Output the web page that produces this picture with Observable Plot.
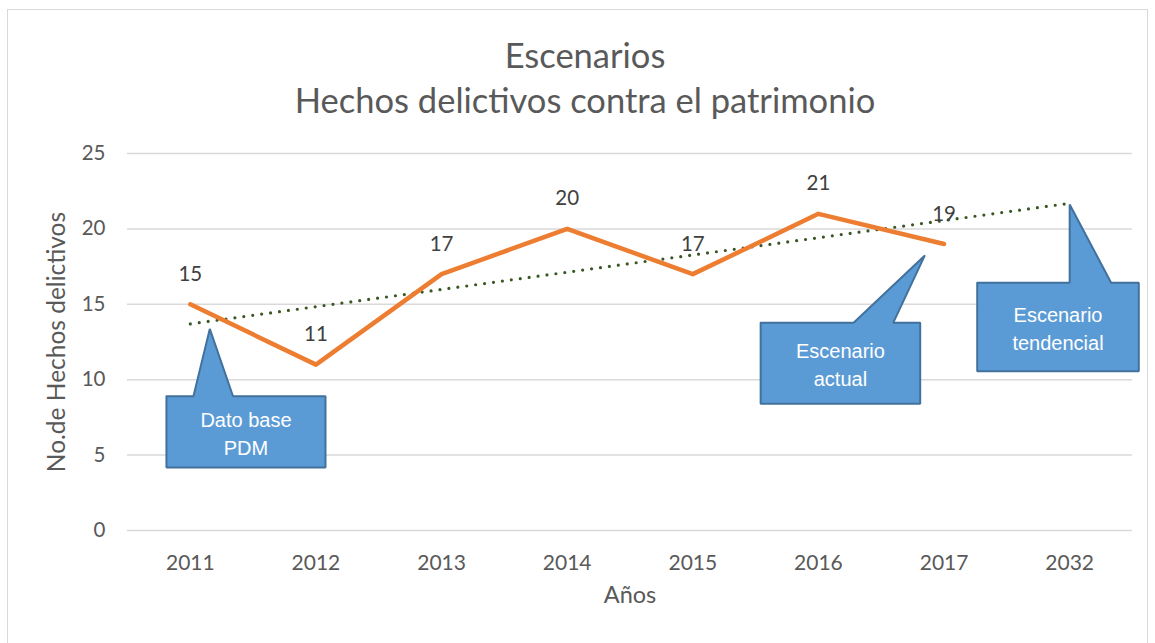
<!DOCTYPE html>
<html><head><meta charset="utf-8">
<script src="https://cdn.jsdelivr.net/npm/d3@7"></script>
<script src="https://cdn.jsdelivr.net/npm/@observablehq/plot@0.6"></script>
<style>
body{margin:0;background:#fff;}
#wrap{position:relative;width:1155px;height:643px;overflow:hidden;font-family:Lato,sans-serif;}
#frame{position:absolute;left:7px;top:9px;width:1141px;height:660px;border:1.5px solid #d9d9d9;box-sizing:border-box;}
#title{position:absolute;left:0;top:32px;width:1170px;text-align:center;color:#595959;font-size:34.5px;line-height:45px;}
#plot{position:absolute;left:0;top:120px;}
</style></head><body>
<div id="wrap"><div id="frame"></div>
<div id="title"><div>Escenarios</div><div>Hechos delictivos contra el patrimonio</div></div>
<div id="plot"></div></div>
<script>
// ---- data ----
const years = ["2011","2012","2013","2014","2015","2016","2017","2032"];
const hechos = [15, 11, 17, 20, 17, 21, 19];          // 2011..2017
const trendYears = ["2011", "2032"];
const trendValues = [13.7, 21.7];                     // dotted trend line ends
const yTicks = [0, 5, 10, 15, 20, 25];
const calloutLabels = ["Dato base\nPDM", "Escenario\nactual", "Escenario\ntendencial"];

// ---- annotation layout (in data units: x = year index, y = value) ----
const calloutShapes = [
  {x1: -0.19, x2: 1.076, top: 8.9,  bottom: 4.18,  b1: 0.025, b2: 0.34,  tipX: 0.155, tipY: 13.37},
  {x1: 4.54,  x2: 5.81,  top: 13.77, bottom: 8.4,  b1: 5.28,  b2: 5.595, tipX: 5.847, tipY: 18.24},
  {x1: 6.264, x2: 7.55,  top: 16.43, bottom: 10.56, b1: 7.0,  b2: 7.33,  tipX: 7.0,   tipY: 21.62}
];

const series = hechos.map((v, i) => ({i, v, year: years[i]}));
const trend = trendYears.map((y, k) => ({i: years.indexOf(y), v: trendValues[k]}));
const calloutPts = calloutShapes.flatMap((c, id) => [
  [c.x1, c.top], [c.b1, c.top], [c.tipX, c.tipY], [c.b2, c.top], [c.x2, c.top],
  [c.x2, c.bottom], [c.x1, c.bottom], [c.x1, c.top]
].map(([x, y]) => ({id, x, y})));
const calloutText = calloutShapes.map((c, k) => ({x: (c.x1 + c.x2) / 2, y: (c.top + c.bottom) / 2, t: calloutLabels[k]}));

const chart = Plot.plot({
  width: 1155, height: 523,
  marginLeft: 127, marginRight: 23, marginTop: 33, marginBottom: 113,
  x: {domain: [-0.5, years.length - 0.5]},
  y: {domain: [0, 25]},
  style: {fontFamily: "Lato, sans-serif", fontSize: "20px", color: "#595959", background: "transparent", overflow: "visible"},
  marks: [
    Plot.gridY(yTicks, {stroke: "#d9d9d9", strokeOpacity: 1, strokeWidth: 1.5}),
    Plot.axisY(yTicks, {tickSize: 0, tickPadding: 22, label: null, fontSize: 20.5}),
    Plot.axisX(d3.range(years.length), {tickSize: 0, tickPadding: 25, tickFormat: i => years[i], label: null, fontSize: 21}),
    Plot.line(trend, {x: "i", y: "v", stroke: "#385723", strokeWidth: 3.2, strokeDasharray: "0 9", strokeLinecap: "round"}),
    Plot.line(series, {x: "i", y: "v", stroke: "#ed7d31", strokeWidth: 4.5, strokeLinejoin: "round", strokeLinecap: "round"}),
    Plot.text(series, {x: "i", y: "v", text: d => String(d.v), dy: -30, fill: "#404040", fontSize: 20.5}),
    Plot.line(calloutPts, {x: "x", y: "y", z: "id", fill: "#5b9bd5", stroke: "#41719c", strokeWidth: 2, strokeLinejoin: "miter"}),
    Plot.text(calloutText, {x: "x", y: "y", text: "t", fill: "white", fontFamily: "Liberation Sans, Arial, sans-serif", fontSize: 20, lineHeight: 1.4}),
    Plot.text(["No.de Hechos delictivos"], {frameAnchor: "left", textAnchor: "middle", dx: -70, rotate: -90, fontSize: 24.5, fill: "#595959"}),
    Plot.text(["Años"], {frameAnchor: "bottom", dy: 72, fontSize: 23.5, fill: "#595959"})
  ]
});
document.getElementById("plot").appendChild(chart);
</script>
</body></html>
